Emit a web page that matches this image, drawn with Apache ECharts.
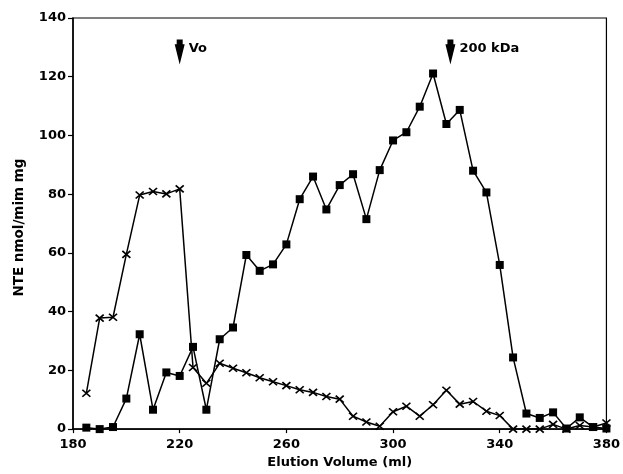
<!DOCTYPE html>
<html>
<head>
<meta charset="utf-8">
<script src="https://cdn.jsdelivr.net/npm/echarts@6/dist/echarts.min.js"></script>
<style>html,body{margin:0;padding:0;background:#fff}#c{width:623px;height:474px}</style>
</head>
<body>
<div id="c"></div>
<script>
const volumes = [185,190,195,200,205,210,215,220,225,230,235,240,245,250,255,260,265,270,275,280,285,290,295,300,305,310,315,320,325,330,335,340,345,350,355,360,365,370,375,380];
const squareSeries = [0.5,0,0.7,10.4,32.3,6.6,19.3,18.1,28,6.6,30.6,34.6,59.3,53.9,56.1,62.9,78.3,86,74.8,83.1,86.8,71.5,88.2,98.3,101.1,109.8,121.1,103.9,108.7,88,80.6,55.9,24.4,5.3,3.8,5.7,0.2,4,0.7,0.2];
const crossSeries = [12.2,37.8,38.1,59.5,79.7,80.9,80.1,81.8,21,15.6,22.4,20.7,19.2,17.5,16.1,14.8,13.4,12.5,11.1,10.2,4.4,2.4,1,5.9,7.8,4.4,8.3,13.2,8.5,9.4,6.1,4.6,0,0,0,1.6,0,1.2,0.7,2.1];
const markers = [{x:220, y:128.4, text:'Vo'},{x:321.5, y:128.4, text:'200 kDa'}];
const xTicks = [180,220,260,300,340,380];
const yTicks = [0,20,40,60,80,100,120,140];

const font = '"DejaVu Sans", "Liberation Sans", Arial, sans-serif';
const chart = echarts.init(document.getElementById('c'), null, {renderer:'canvas'});
const arrowPath = 'path://M2,0L8,0L8,6L10,6L5,32L0,6L2,6Z';
const crossPath = 'path://M0,0L10,10M10,0L0,10';
chart.setOption({
  animation:false,
  backgroundColor:'#fff',
  grid:{left:73,right:14,top:18,bottom:41,show:true,borderColor:'#000',borderWidth:1.2},
  xAxis:{type:'value',min:xTicks[0],max:xTicks[xTicks.length-1],interval:40,
    name:'Elution Volume (ml)',nameLocation:'middle',nameGap:25,
    nameTextStyle:{fontFamily:font,fontWeight:'bold',fontSize:13,color:'#000'},
    axisLine:{lineStyle:{color:'#000',width:1.5}},
    axisTick:{show:true,length:4,lineStyle:{color:'#000',width:1.2}},
    axisLabel:{fontFamily:font,fontWeight:'bold',fontSize:13,color:'#000',margin:9},
    splitLine:{show:false}},
  yAxis:{type:'value',min:yTicks[0],max:yTicks[yTicks.length-1],interval:20,
    name:'NTE nmol/mim mg',nameLocation:'middle',nameGap:47,
    nameTextStyle:{fontFamily:font,fontWeight:'bold',fontSize:13.5,color:'#000',padding:[0,0,0,-8]},
    axisLine:{show:true,lineStyle:{color:'#000',width:1.5}},
    axisTick:{show:true,length:5,lineStyle:{color:'#000',width:1.2}},
    axisLabel:{fontFamily:font,fontWeight:'bold',fontSize:13,color:'#000',margin:7},
    splitLine:{show:false}},
  series:[
    {type:'line',data:volumes.map((v,i)=>[v,crossSeries[i]]),
      symbol:crossPath,symbolSize:[8,7],showAllSymbol:true,
      lineStyle:{color:'#000',width:1.5},
      itemStyle:{color:'#000',borderColor:'#000',borderWidth:1.6},
      z:3},
    {type:'line',data:volumes.map((v,i)=>[v,squareSeries[i]]),
      symbol:'rect',symbolSize:8,showAllSymbol:true,
      lineStyle:{color:'#000',width:1.5},
      itemStyle:{color:'#000',borderColor:'#000',borderWidth:0},
      z:4,
      markPoint:{symbol:arrowPath,symbolSize:[10,25],symbolKeepAspect:false,
        itemStyle:{color:'#000'},
        label:{show:true,position:'right',distance:4,color:'#000',fontFamily:font,fontWeight:'bold',fontSize:13,offset:[0,-3],formatter:p=>p.name},
        data:markers.map(m=>({name:m.text,coord:[m.x,m.y]}))}
    }
  ]
});
</script>
</body>
</html>
